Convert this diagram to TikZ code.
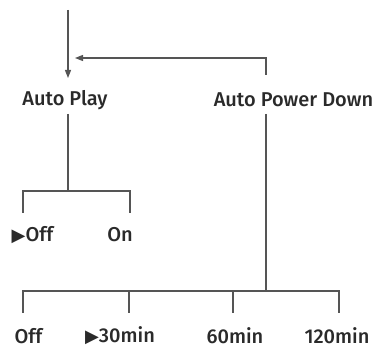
\documentclass[tikz,border=0pt]{standalone}
\usepackage{fontspec}
\setmainfont{Fira Sans Medium}
\newfontfamily\symfont{DejaVu Sans}
\usetikzlibrary{arrows.meta}
\definecolor{menugray}{HTML}{555555}
\definecolor{menutext}{HTML}{2A2A2A}
\tikzset{
  menu item/.style={inner sep=0pt,text=menutext,font=\fontsize{15}{17}\selectfont},
  menu line/.style={menugray,line width=1pt},
  menu arrow/.style={menu line,-{Triangle[length=6pt,width=4.5pt]}},
}
\newcommand{\cursor}{{\symfont\fontsize{13.5}{14}\selectfont ▶}}
\begin{document}
\begin{tikzpicture}[x=0.75pt,y=-0.75pt]
  \useasboundingbox (0,0) rectangle (376,353);
  % items
  \node[menu item] (ap) at (65,100) {Auto Play};
  \node[menu item] (apd) at (293.5,100) {Auto Power Down};
  \node[menu item] (apoff) at (32.5,235) {\cursor Off};
  \node[menu item] (apon) at (120,235) {On};
  \node[menu item] (pdoff) at (28.5,336) {Off};
  \node[menu item] (pd30) at (120,336) {\cursor 30min};
  \node[menu item] (pd60) at (235,336) {60min};
  \node[menu item] (pd120) at (337,336) {120min};
  % junctions
  \coordinate (in) at (68,10);
  \coordinate (apin) at (68,78);
  \coordinate (back) at (75,58);
  \coordinate (apdtop) at (266,75);
  \coordinate (apbot) at (68,114);
  \coordinate (apj) at (68,191);
  \coordinate (apdbot) at (266,114);
  \coordinate (apdj) at (266,291);
  \coordinate (apoffj) at (23,191);
  \coordinate (aponj) at (130,191);
  \coordinate (pdoffj) at (23,291);
  \coordinate (pd30j) at (129,291);
  \coordinate (pd60j) at (233,291);
  \coordinate (pd120j) at (339,291);
  % connectors
  \draw[menu arrow] (in) -- (apin);
  \draw[menu arrow] (apdtop) |- (back);
  \draw[menu line] (apbot) -- (apj);
  \draw[menu line] (apoffj) ++(0,22) -- (apoffj) -- (aponj) -- ++(0,22);
  \draw[menu line] (apdbot) -- (apdj);
  \draw[menu line] (pdoffj) ++(0,22) -- (pdoffj) -- (pd120j) -- ++(0,22);
  \draw[menu line] (pd30j) -- ++(0,22);
  \draw[menu line] (pd60j) -- ++(0,22);
\end{tikzpicture}
\end{document}
